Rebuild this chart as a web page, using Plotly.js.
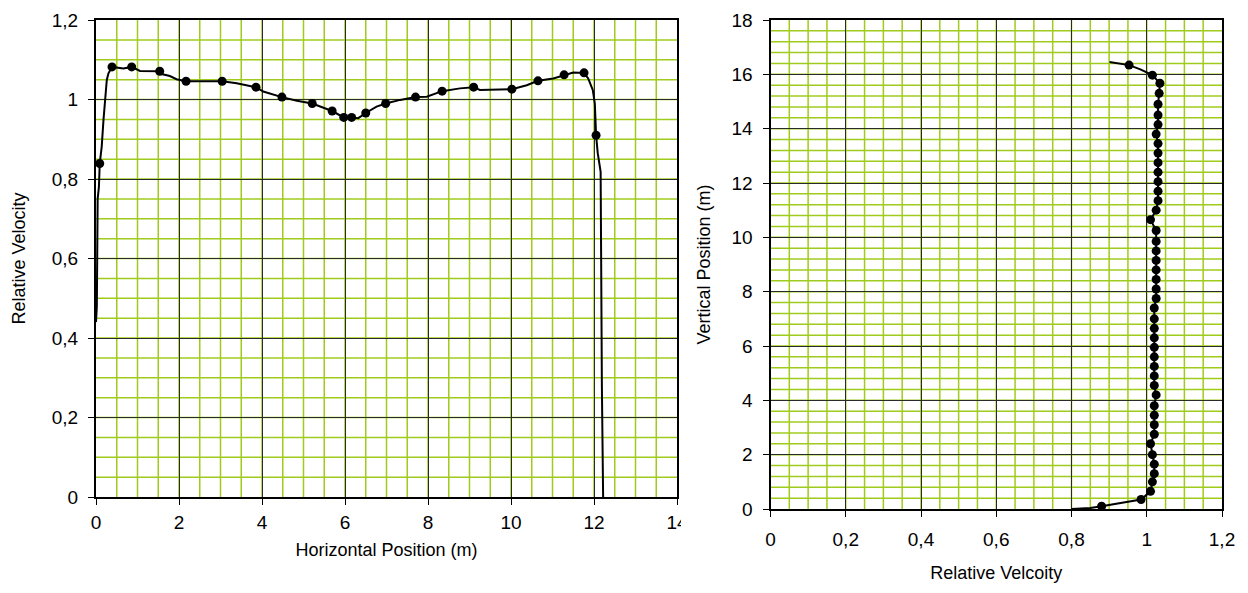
<!DOCTYPE html>
<html>
<head>
<meta charset="utf-8">
<script src="https://cdn.plot.ly/plotly-3.0.1.min.js"></script>
<style>
  html, body { margin: 0; padding: 0; background: #fff; }
  #chart { width: 1248px; height: 593px; }
</style>
</head>
<body>
<div id="chart"></div>
<script>
// ---- Left chart: horizontal profile ----
const hLineX = [0.0, 0.02, 0.04, 0.07, 0.09, 0.137, 0.18, 0.22, 0.26, 0.30, 0.386, 0.66, 0.86, 1.06, 1.38, 1.535, 1.58, 1.78, 1.94, 2.17, 3.04, 3.39, 3.855, 4.03, 4.48, 4.84, 5.21, 5.40, 5.69, 5.97, 6.16, 6.32, 6.50, 6.76, 6.98, 7.33, 7.70, 7.97, 8.34, 8.77, 9.10, 9.25, 10.02, 10.38, 10.65, 11.02, 11.28, 11.50, 11.76, 11.86, 11.97, 12.02, 12.05, 12.09, 12.16, 12.17, 12.19, 12.22];
const hLineY = [0.44, 0.48, 0.75, 0.78, 0.839, 0.881, 0.948, 0.99, 1.049, 1.066, 1.082, 1.078, 1.082, 1.072, 1.072, 1.071, 1.064, 1.059, 1.051, 1.046, 1.046, 1.041, 1.031, 1.020, 1.006, 0.997, 0.990, 0.982, 0.971, 0.955, 0.955, 0.953, 0.966, 0.982, 0.990, 0.999, 1.006, 1.007, 1.021, 1.028, 1.031, 1.024, 1.026, 1.036, 1.047, 1.053, 1.062, 1.068, 1.067, 1.053, 1.024, 0.990, 0.910, 0.865, 0.818, 0.613, 0.277, 0.0];
const hDotX = [0.09, 0.386, 0.86, 1.535, 2.17, 3.04, 3.855, 4.48, 5.21, 5.69, 5.97, 6.16, 6.50, 6.98, 7.70, 8.34, 9.10, 10.02, 10.65, 11.28, 11.76, 12.05];
const hDotY = [0.839, 1.082, 1.082, 1.071, 1.046, 1.046, 1.031, 1.006, 0.990, 0.971, 0.955, 0.955, 0.966, 0.990, 1.006, 1.021, 1.031, 1.026, 1.047, 1.062, 1.067, 0.910];

// ---- Right chart: vertical profile ----
const vLineX = [0.80, 0.85, 0.88, 0.985, 1.01, 1.015, 1.02, 1.02, 1.015, 1.01, 1.02, 1.02, 1.02, 1.02, 1.025, 1.02, 1.02, 1.02, 1.02, 1.02, 1.02, 1.02, 1.02, 1.02, 1.025, 1.025, 1.025, 1.025, 1.025, 1.025, 1.025, 1.025, 1.01, 1.025, 1.03, 1.03, 1.03, 1.03, 1.03, 1.03, 1.03, 1.025, 1.03, 1.03, 1.03, 1.033, 1.035, 1.015, 0.983, 0.953, 0.901];
const vLineY = [0.0, 0.04, 0.1, 0.35, 0.65, 1.0, 1.3, 1.65, 2.0, 2.4, 2.75, 3.1, 3.45, 3.8, 4.2, 4.55, 4.9, 5.25, 5.6, 5.95, 6.3, 6.65, 7.0, 7.4, 7.75, 8.1, 8.45, 8.8, 9.15, 9.5, 9.85, 10.25, 10.65, 11.0, 11.35, 11.7, 12.05, 12.4, 12.75, 13.1, 13.45, 13.8, 14.15, 14.5, 14.9, 15.3, 15.67, 15.97, 16.18, 16.34, 16.45];
const vDotX = [0.88, 0.985, 1.01, 1.015, 1.02, 1.02, 1.015, 1.01, 1.02, 1.02, 1.02, 1.02, 1.025, 1.02, 1.02, 1.02, 1.02, 1.02, 1.02, 1.02, 1.02, 1.02, 1.025, 1.025, 1.025, 1.025, 1.025, 1.025, 1.025, 1.025, 1.01, 1.025, 1.03, 1.03, 1.03, 1.03, 1.03, 1.03, 1.03, 1.025, 1.03, 1.03, 1.03, 1.033, 1.035, 1.015, 0.953];
const vDotY = [0.1, 0.35, 0.65, 1.0, 1.3, 1.65, 2.0, 2.4, 2.75, 3.1, 3.45, 3.8, 4.2, 4.55, 4.9, 5.25, 5.6, 5.95, 6.3, 6.65, 7.0, 7.4, 7.75, 8.1, 8.45, 8.8, 9.15, 9.5, 9.85, 10.25, 10.65, 11.0, 11.35, 11.7, 12.05, 12.4, 12.75, 13.1, 13.45, 13.8, 14.15, 14.5, 14.9, 15.3, 15.67, 15.97, 16.34];

const FONT = 'Liberation Sans, Arial, sans-serif';
const MAJOR = '#2a2a2a';
const MINOR = '#9fcc1c';

function axis(extra) {
  return Object.assign({
    showgrid: true, gridcolor: MAJOR, gridwidth: 1,
    zeroline: false, showline: true, linecolor: '#000', linewidth: 2, mirror: true,
    ticks: 'outside', ticklen: 6, tickcolor: '#000', tickwidth: 1,
    tickfont: { family: FONT, size: 19, color: '#000' },
    ticklabelstandoff: 6,
    fixedrange: true
  }, extra);
}

// light green minor grid drawn as shapes below the major grid
function minorGrid(xa, ya, xmax, xstep, ymax, ystep) {
  const out = [];
  const nx = Math.round(xmax / xstep), ny = Math.round(ymax / ystep);
  for (let i = 1; i < nx; i++) {
    const v = +(i * xstep).toFixed(4);
    out.push({ type: 'line', layer: 'below', xref: xa, yref: ya + ' domain', x0: v, x1: v, y0: 0, y1: 1,
      line: { color: MINOR, width: 1.5 } });
  }
  for (let j = 1; j < ny; j++) {
    const v = +(j * ystep).toFixed(4);
    out.push({ type: 'line', layer: 'below', xref: xa + ' domain', yref: ya, x0: 0, x1: 1, y0: v, y1: v,
      line: { color: MINOR, width: 1.5 } });
  }
  return out;
}

const traces = [
  { x: hLineX, y: hLineY, xaxis: 'x', yaxis: 'y', mode: 'lines', line: { color: '#000', width: 2 }, hoverinfo: 'skip' },
  { x: hDotX, y: hDotY, xaxis: 'x', yaxis: 'y', mode: 'markers', marker: { color: '#000', size: 9 } },
  { x: vLineX, y: vLineY, xaxis: 'x2', yaxis: 'y2', mode: 'lines', line: { color: '#000', width: 2 }, hoverinfo: 'skip' },
  { x: vDotX, y: vDotY, xaxis: 'x2', yaxis: 'y2', mode: 'markers', marker: { color: '#000', size: 9 } }
];

const shapes = []
  .concat(minorGrid('x', 'y', 14, 0.5, 1.2, 0.05))
  .concat(minorGrid('x2', 'y2', 1.2, 0.05, 18, 0.4));
shapes.push({ type: 'rect', xref: 'paper', yref: 'paper', layer: 'above',
  x0: 681 / 1248, x1: 700 / 1248, y0: 1 - 545 / 593, y1: 1 - 503 / 593,
  fillcolor: '#fff', line: { width: 0 } });

const layout = {
  width: 1248, height: 593,
  margin: { l: 0, r: 0, t: 0, b: 0 },
  paper_bgcolor: '#fff', plot_bgcolor: '#fff',
  showlegend: false,
  separators: ', ',
  font: { family: FONT, color: '#000' },
  xaxis: axis({
    domain: [96 / 1248, 677 / 1248], range: [0, 14], tick0: 0, dtick: 2, anchor: 'y',
    ticklabelstandoff: 1,
    title: { text: 'Horizontal Position (m)', font: { family: FONT, size: 18 }, standoff: 12 }
  }),
  yaxis: axis({
    domain: [1 - 497 / 593, 1 - 20 / 593], range: [0, 1.2], tick0: 0, dtick: 0.2, anchor: 'x',
    title: { text: 'Relative Velocity', font: { family: FONT, size: 18 }, standoff: 21 }
  }),
  xaxis2: axis({
    domain: [770.5 / 1248, 1222 / 1248], range: [0, 1.2], tick0: 0, dtick: 0.2, anchor: 'y2',
    title: { text: 'Relative Velcoity', font: { family: FONT, size: 18 }, standoff: 18 }
  }),
  yaxis2: axis({
    domain: [1 - 509 / 593, 1 - 20 / 593], range: [0, 18], tick0: 0, dtick: 2, anchor: 'x2',
    title: { text: 'Vertical Position (m)', font: { family: FONT, size: 18 }, standoff: 16 }
  }),
  shapes: shapes
};

Plotly.newPlot('chart', traces, layout, { displayModeBar: false, staticPlot: true });
</script>
</body>
</html>
